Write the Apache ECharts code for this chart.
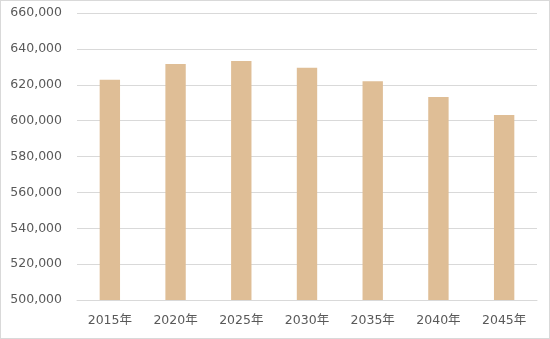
<!DOCTYPE html>
<html><head><meta charset="utf-8">
<script src="https://cdn.jsdelivr.net/npm/echarts@6/dist/echarts.min.js"></script>
<style>html,body{margin:0;padding:0;background:#fff}#c{width:548px;height:337px;border:1px solid #d9d9d9}</style>
</head><body><div id="c"></div>
<script>
const categories = ['2015年','2020年','2025年','2030年','2035年','2040年','2045年'];
const values = [622800, 631500, 633200, 629500, 622000, 613200, 603200];
const yMin = 500000, yMax = 660000, yStep = 20000;
const font = '"DejaVu Sans", "Noto Sans CJK JP", sans-serif';
const chart = echarts.init(document.getElementById('c'));
chart.setOption({
  animation:false,
  grid:{left:76,right:12,top:12,bottom:38},
  xAxis:{type:'category',data:categories,
    axisLine:{lineStyle:{color:'#d9d9d9'}},axisTick:{show:false},
    axisLabel:{color:'#595959',fontSize:12.5,margin:14,fontFamily:font}},
  yAxis:{type:'value',min:yMin,max:yMax,interval:yStep,
    axisLine:{show:false},axisTick:{show:false},
    splitLine:{lineStyle:{color:'#d9d9d9'}},
    axisLabel:{color:'#595959',fontSize:12.5,margin:15,fontFamily:font,
      formatter:v=>v.toLocaleString('en-US')}},
  series:[{type:'bar',data:values,barWidth:'31%',itemStyle:{color:'#dfbe96'}}]
});
</script></body></html>
